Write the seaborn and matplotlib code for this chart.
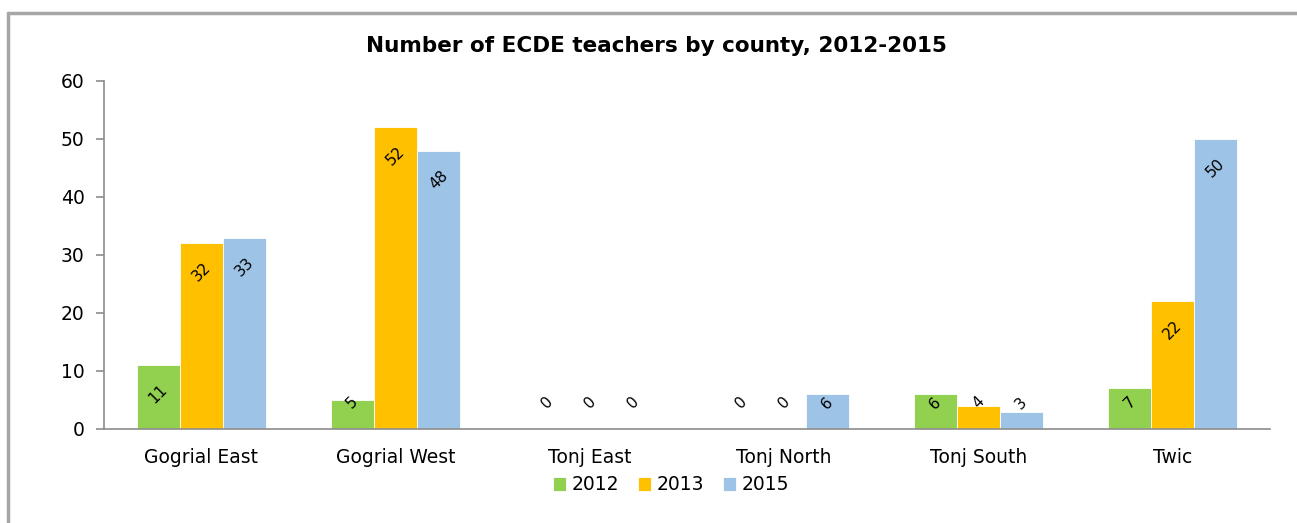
import seaborn as sns
import matplotlib.pyplot as plt
import numpy as np
import pandas as pd
from matplotlib.lines import Line2D

counties = ['Gogrial East', 'Gogrial West', 'Tonj East', 'Tonj North', 'Tonj South', 'Twic']
years = ['2012', '2013', '2015']
teachers_2012 = [11, 5, 0, 0, 6, 7]
teachers_2013 = [32, 52, 0, 0, 4, 22]
teachers_2015 = [33, 48, 0, 6, 3, 50]
colors = ['#92D050', '#FFC000', '#9DC3E6']

df = pd.DataFrame({'county': counties * 3,
                   'year': np.repeat(years, len(counties)),
                   'teachers': teachers_2012 + teachers_2013 + teachers_2015})

sns.set_style('white')
plt.rcParams['font.family'] = ['DejaVu Sans']
plt.rcParams['text.color'] = 'black'
plt.rcParams['xtick.labelcolor'] = 'black'
plt.rcParams['ytick.labelcolor'] = 'black'

fig = plt.figure(figsize=(12.97, 5.23), dpi=100)
ax = fig.add_axes([104/1297, 1-429/523, (1270-104)/1297, (429-81)/523])

sns.barplot(data=df, x='county', y='teachers', hue='year', order=counties,
            hue_order=years, palette=colors, width=0.665, saturation=1,
            edgecolor='white', linewidth=0.6, ax=ax)

# data labels, rotated, inside the top of each bar
for cont in ax.containers:
    for bar in cont:
        v = bar.get_height()
        ax.text(bar.get_x() + bar.get_width()/2, max(v - 5.0, 4.5), f'{v:.0f}',
                rotation=45, ha='center', va='center', fontsize=11, color='black')

ax.set_ylim(0, 60)
ax.set_yticks(range(0, 61, 10))
ax.set_xlim(-0.5, len(counties) - 0.5)
ax.set_xticks(np.arange(-0.5, len(counties), 1.0), minor=True)
ax.tick_params(axis='x', which='major', length=0, labelsize=13.5, pad=14)
ax.tick_params(axis='x', which='minor', length=6, width=1.2, color='#8c8c8c', direction='out')
ax.tick_params(axis='y', length=6, width=1.2, color='#8c8c8c', direction='out',
               labelsize=13.5, left=True, pad=8)
ax.set_xlabel('')
ax.set_ylabel('')
for s in ['top', 'right']:
    ax.spines[s].set_visible(False)
for s in ['left', 'bottom']:
    ax.spines[s].set_color('#8c8c8c')
    ax.spines[s].set_linewidth(1.2)

fig.text(656/1297, 1-46/523, 'Number of ECDE teachers by county, 2012-2015',
         fontsize=15.5, fontweight='bold', ha='center', va='center')

handles, labels = ax.get_legend_handles_labels()
ax.get_legend().remove()
fig.legend(handles, labels, loc='center', bbox_to_anchor=(671/1297, 1-485/523), ncol=3,
           frameon=False, fontsize=13.5, handlelength=0.7, handleheight=0.7,
           handletextpad=0.3, columnspacing=1.0)

# outer chart border (left and top visible)
fig.add_artist(Line2D([8/1297, 8/1297], [0, 1-13/523], color='#a6a6a6', lw=2.5,
                      transform=fig.transFigure))
fig.add_artist(Line2D([8/1297, 1], [1-13/523, 1-13/523], color='#a6a6a6', lw=2.5,
                      transform=fig.transFigure))

plt.savefig('out.png', dpi=100)
